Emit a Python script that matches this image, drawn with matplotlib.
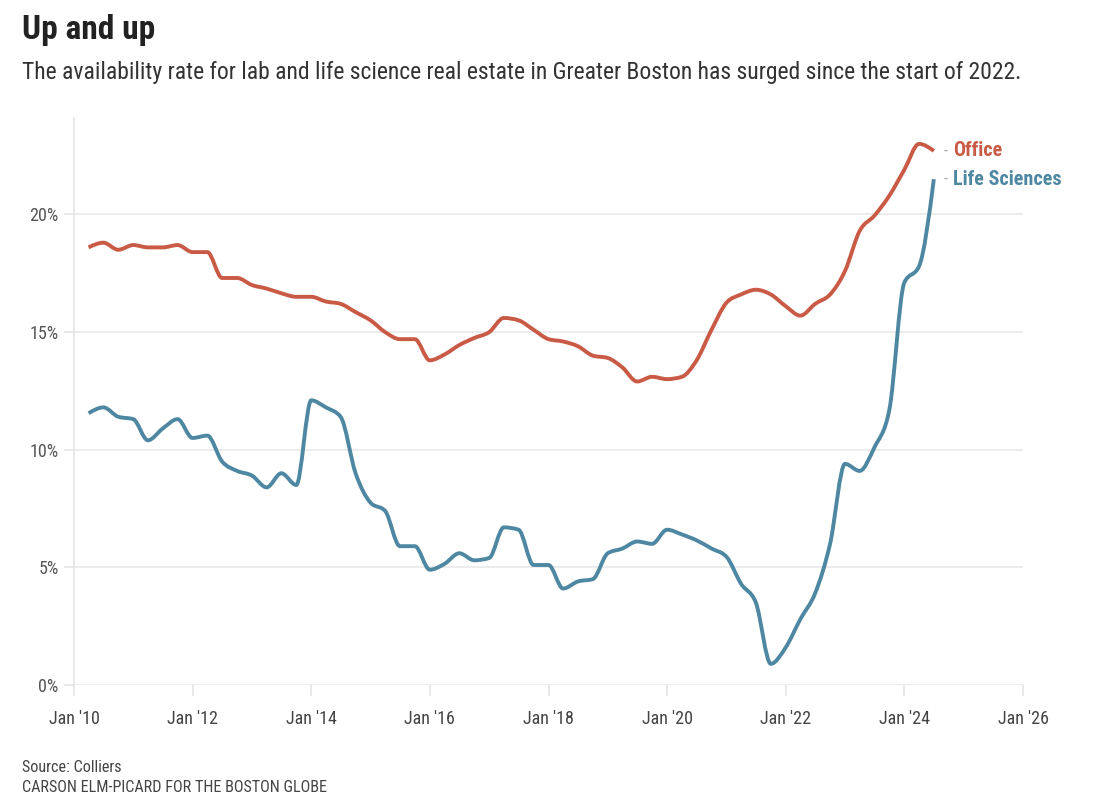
import numpy as np
import pandas as pd
import matplotlib
matplotlib.use("Agg")
import matplotlib.pyplot as plt
import matplotlib.dates as mdates
from matplotlib.path import Path
from matplotlib.patches import PathPatch

plt.rcParams['font.family'] = ['Roboto Condensed', 'Liberation Sans Narrow',
                               'DejaVu Sans Condensed', 'Roboto', 'DejaVu Sans']

# quarterly availability rate, %
dates = pd.date_range('2010-04-01', periods=58, freq='QS')
office = [18.6, 18.8, 18.5, 18.7, 18.6, 18.6, 18.7, 18.4, 18.4, 17.3,
          17.3, 17.0, 16.85, 16.65, 16.5, 16.5, 16.3, 16.2, 15.85, 15.5,
          15.0, 14.7, 14.7, 13.8, 14.05, 14.45, 14.75, 15.0, 15.6, 15.5,
          15.1, 14.7, 14.6, 14.4, 14.0, 13.9, 13.5, 12.9, 13.1, 13.0,
          13.1, 13.8, 15.1, 16.25, 16.6, 16.8, 16.6, 16.1, 15.7, 16.2,
          16.6, 17.6, 19.3, 19.95, 20.8, 21.9, 23.0, 22.7]
life = [11.55, 11.8, 11.4, 11.3, 10.4, 10.9, 11.3, 10.5, 10.6, 9.5,
        9.1, 8.9, 8.4, 9.0, 8.5, 12.1, 11.8, 11.4, 9.0, 7.75,
        7.4, 5.9, 5.9, 4.9, 5.15, 5.6, 5.3, 5.4, 6.7, 6.6,
        5.1, 5.1, 4.1, 4.4, 4.5, 5.6, 5.8, 6.1, 6.0, 6.6,
        6.4, 6.15, 5.8, 5.45, 4.3, 3.5, 0.9, 1.6, 2.8, 3.9,
        6.0, 9.4, 9.1, 10.1, 11.7, 17.1, 17.8, 21.5]
names = ['Office', 'Life Sciences']
colors = ['#c95a45', '#4e87a1']
yticks = [0, 5, 10, 15, 20]
xyears = list(range(2010, 2027, 2))


def monotone_path(x, y):
    # smooth curve through the points, like d3.curveMonotoneX
    x = np.asarray(x, float)
    y = np.asarray(y, float)
    h = np.diff(x)
    s = np.diff(y) / h
    t = np.zeros_like(y)
    for i in range(1, len(x) - 1):
        p = (s[i - 1] * h[i] + s[i] * h[i - 1]) / (h[i - 1] + h[i])
        t[i] = (np.sign(s[i - 1]) + np.sign(s[i])) * min(abs(s[i - 1]), abs(s[i]), 0.5 * abs(p))
    t[0] = (3 * s[0] - t[1]) / 2
    t[-1] = (3 * s[-1] - t[-2]) / 2
    verts = [(x[0], y[0])]
    codes = [Path.MOVETO]
    for i in range(len(x) - 1):
        dx = h[i] / 3
        verts += [(x[i] + dx, y[i] + dx * t[i]),
                  (x[i + 1] - dx, y[i + 1] - dx * t[i + 1]),
                  (x[i + 1], y[i + 1])]
        codes += [Path.CURVE4] * 3
    return Path(verts, codes)


fig = plt.figure(figsize=(11, 8), dpi=100)
ax = fig.add_axes([74 / 1100, 115 / 800, 949 / 1100, 567 / 800])

xnum = mdates.date2num(dates)
for vals, name, c in zip([office, life], names, colors):
    ax.add_patch(PathPatch(monotone_path(xnum, vals), fill=False, edgecolor=c,
                           lw=2.8, capstyle='butt', joinstyle='round', zorder=3))
    ax.annotate('-', (xnum[-1], vals[-1]), xytext=(7, 0), textcoords='offset points',
                va='center', ha='left', color='#aaaaaa', fontsize=12)
    ax.annotate(name, (xnum[-1], vals[-1]), xytext=(14, 0), textcoords='offset points',
                va='center', ha='left', color=c, fontsize=14.5, fontweight='bold')

ax.set_xlim(mdates.date2num(pd.Timestamp('2010-01-01')),
            mdates.date2num(pd.Timestamp('2026-01-01')))
ax.set_ylim(0, 24.1)

ax.set_xticks([mdates.date2num(pd.Timestamp(f'{y}-01-01')) for y in xyears])
ax.set_xticklabels([f"Jan '{y % 100:02d}" for y in xyears])
ax.set_yticks(yticks)
ax.set_yticklabels([f'{v}%' for v in yticks])
ax.grid(axis='y', color='#ebebeb', lw=1.3)
ax.set_axisbelow(True)
for side in ['top', 'right', 'bottom']:
    ax.spines[side].set_visible(False)
ax.spines['left'].set_color('#e6e6e6')
ax.spines['left'].set_linewidth(1.3)
ax.tick_params(axis='x', length=8, width=1.3, color='#e6e6e6', pad=10,
               labelsize=13, labelcolor='#444444')
ax.tick_params(axis='y', length=7, width=1.3, color='#e6e6e6', pad=4,
               labelsize=13, labelcolor='#555555')

fig.text(22 / 1100, 1 - 30 / 800, 'Up and up', fontsize=24, fontweight='bold',
         color='#222222', va='center', ha='left')
fig.text(22 / 1100, 1 - 72 / 800,
         'The availability rate for lab and life science real estate in Greater Boston '
         'has surged since the start of 2022.',
         fontsize=17, color='#333333', va='center', ha='left')
fig.text(22 / 1100, 1 - 768 / 800, 'Source: Colliers', fontsize=11.6,
         color='#444444', va='center', ha='left')
fig.text(22 / 1100, 1 - 787 / 800, 'CARSON ELM-PICARD FOR THE BOSTON GLOBE',
         fontsize=11.6, color='#444444', va='center', ha='left')

fig.savefig('out.png', dpi=100)
